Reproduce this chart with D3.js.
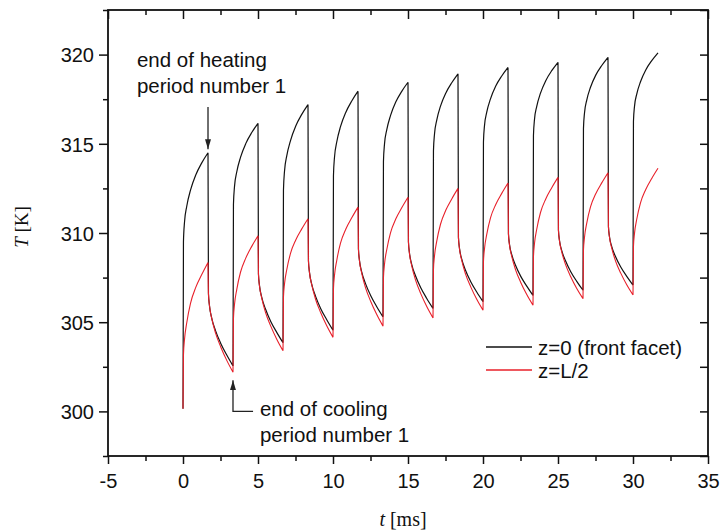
<!DOCTYPE html>
<html>
<head>
<meta charset="utf-8">
<script src="https://cdn.jsdelivr.net/npm/d3@7/dist/d3.min.js"></script>
<style>
  html, body { margin: 0; padding: 0; background: #fff; }
  svg { display: block; }
  text { font-family: "Liberation Sans", Arial, Helvetica, sans-serif; fill: #111; }
  .serif { font-family: "Liberation Serif", "Times New Roman", serif; }
</style>
</head>
<body>
<svg id="chart" width="723" height="531"></svg>
<script>
// ---- data ----
const timeMs = [
  0, 0.03, 0.1, 0.25, 0.5, 0.85, 1.25, 1.667, 1.697, 1.767, 1.917, 2.167, 2.517, 2.917,
  3.333, 3.363, 3.433, 3.583, 3.833, 4.183, 4.583, 5.0, 5.03, 5.1, 5.25, 5.5, 5.85, 6.25,
  6.667, 6.697, 6.767, 6.917, 7.167, 7.517, 7.917, 8.333, 8.363, 8.433, 8.583, 8.833, 9.183, 9.583,
  10.0, 10.03, 10.1, 10.25, 10.5, 10.85, 11.25, 11.667, 11.697, 11.767, 11.917, 12.167, 12.517, 12.917,
  13.333, 13.363, 13.433, 13.583, 13.833, 14.183, 14.583, 15.0, 15.03, 15.1, 15.25, 15.5, 15.85, 16.25,
  16.667, 16.697, 16.767, 16.917, 17.167, 17.517, 17.917, 18.333, 18.363, 18.433, 18.583, 18.833, 19.183, 19.583,
  20.0, 20.03, 20.1, 20.25, 20.5, 20.85, 21.25, 21.667, 21.697, 21.767, 21.917, 22.167, 22.517, 22.917,
  23.333, 23.363, 23.433, 23.583, 23.833, 24.183, 24.583, 25.0, 25.03, 25.1, 25.25, 25.5, 25.85, 26.25,
  26.667, 26.697, 26.767, 26.917, 27.167, 27.517, 27.917, 28.333, 28.363, 28.433, 28.583, 28.833, 29.183, 29.583,
  30.0, 30.03, 30.1, 30.25, 30.5, 30.85, 31.25, 31.667
];
const frontFacet = [
  300.15, 309.5, 310.60, 311.50, 312.40, 313.25, 313.93, 314.5, 306.6, 305.91, 305.22, 304.53, 303.81, 303.16,
  302.55, 311.6, 312.60, 313.42, 314.24, 315.01, 315.63, 316.15, 307.7, 307.05, 306.39, 305.74, 305.04, 304.43,
  303.85, 312.4, 313.46, 314.32, 315.18, 316.0, 316.65, 317.2, 308.45, 307.79, 307.12, 306.46, 305.76, 305.14,
  304.55, 313.2, 314.25, 315.10, 315.96, 316.76, 317.40, 317.95, 309.1, 308.45, 307.81, 307.16, 306.48, 305.87,
  305.3, 314.0, 314.98, 315.78, 316.58, 317.34, 317.94, 318.45, 309.5, 308.87, 308.23, 307.60, 306.93, 306.33,
  305.77, 314.6, 315.55, 316.33, 317.11, 317.84, 318.42, 318.92, 309.75, 309.14, 308.53, 307.91, 307.27, 306.69,
  306.15, 315.1, 316.02, 316.77, 317.52, 318.24, 318.80, 319.28, 309.95, 309.36, 308.78, 308.19, 307.57, 307.02,
  306.5, 315.45, 316.36, 317.10, 317.84, 318.54, 319.10, 319.57, 310.15, 309.58, 309.01, 308.44, 307.83, 307.29,
  306.79, 315.85, 316.73, 317.45, 318.17, 318.85, 319.39, 319.85, 310.35, 309.79, 309.24, 308.68, 308.09, 307.57,
  307.08, 316.25, 317.10, 317.79, 318.48, 319.14, 319.66, 320.1
];
const halfDepth = [
  300.15, 303.15, 304.03, 304.97, 306.06, 306.95, 307.67, 308.35, 306.6, 305.92, 305.21, 304.40, 303.61, 302.86,
  302.2, 305.2, 305.99, 306.83, 307.80, 308.59, 309.25, 309.85, 307.7, 307.03, 306.35, 305.55, 304.78, 304.05,
  303.4, 306.4, 307.15, 307.94, 308.86, 309.61, 310.23, 310.8, 308.45, 307.78, 307.10, 306.30, 305.53, 304.80,
  304.15, 306.85, 307.63, 308.46, 309.43, 310.21, 310.85, 311.45, 309.1, 308.43, 307.74, 306.94, 306.16, 305.43,
  304.78, 307.48, 308.25, 309.06, 310.01, 310.78, 311.41, 312.0, 309.5, 308.84, 308.16, 307.37, 306.60, 305.88,
  305.24, 307.94, 308.72, 309.54, 310.49, 311.27, 311.91, 312.5, 309.75, 309.12, 308.46, 307.71, 306.98, 306.28,
  305.67, 308.37, 309.12, 309.92, 310.85, 311.60, 312.22, 312.8, 309.95, 309.33, 308.69, 307.95, 307.23, 306.55,
  305.95, 308.65, 309.41, 310.21, 311.15, 311.91, 312.54, 313.12, 310.15, 309.56, 308.94, 308.24, 307.55, 306.89,
  306.32, 309.02, 309.76, 310.55, 311.46, 312.20, 312.81, 313.38, 310.35, 309.76, 309.15, 308.44, 307.75, 307.10,
  306.53, 309.23, 309.98, 310.77, 311.69, 312.44, 313.06, 313.63
];
const seriesNames = ["z=0 (front facet)", "z=L/2"];
const seriesColors = ["#111111", "#e8202a"];
const xTicks = [-5, 0, 5, 10, 15, 20, 25, 30, 35];
const yTicks = [300, 305, 310, 315, 320];
const xDomain = [-5, 35];
const yDomain = [297.5, 322.5];
// annotations: [t, T] in data units
const heatArrow = [[1.667, 317.06], [1.667, 314.7]];
const heatLabel = { t: -3.07, T: 319.3, lines: ["end of heating", "period number 1"] };
const coolArrow = [[4.67, 300.0], [3.333, 300.0], [3.333, 301.75]];
const coolLabel = { t: 5.13, T: 299.74, lines: ["end of cooling", "period number 1"] };

// ---- drawing ----
const svg = d3.select("#chart");
const L = 108, R = 708, T0 = 10, B = 456;
const x = d3.scaleLinear().domain(xDomain).range([L, R]);
const y = d3.scaleLinear().domain(yDomain).range([B, T0]);

const minorX = d3.range(-2.5, 35, 5);
const minorY = d3.range(297.5, 322.6, 5);

// frame
const axisW = 1.8;
function tickGroup(g) { g.select(".domain").remove(); g.selectAll("line").attr("stroke", "#111").attr("stroke-width", 1.5); }

// bottom (outward)
svg.append("g").attr("transform", `translate(0,${B})`)
  .call(d3.axisBottom(x).tickValues(xTicks).tickSize(8).tickFormat(d => d === 0 ? "0" : String(d).replace("-", "-")))
  .call(tickGroup)
  .call(g => g.selectAll("text").attr("font-size", 20).attr("dy", 0).attr("y", 32).style("font-family", '"Liberation Sans", Arial, sans-serif').attr("fill", "#111"));
svg.append("g").attr("transform", `translate(0,${B})`)
  .call(d3.axisBottom(x).tickValues(minorX).tickSize(5).tickFormat(""))
  .call(tickGroup);
// top (inward)
svg.append("g").attr("transform", `translate(0,${T0})`)
  .call(d3.axisBottom(x).tickValues(xTicks).tickSize(9).tickFormat(""))
  .call(tickGroup);
svg.append("g").attr("transform", `translate(0,${T0})`)
  .call(d3.axisBottom(x).tickValues(minorX).tickSize(5).tickFormat(""))
  .call(tickGroup);
// left (outward)
svg.append("g").attr("transform", `translate(${L},0)`)
  .call(d3.axisLeft(y).tickValues(yTicks).tickSize(9).tickPadding(5).tickFormat(d3.format("d")))
  .call(tickGroup)
  .call(g => g.selectAll("text").attr("font-size", 20).attr("dy", "0.36em").style("font-family", '"Liberation Sans", Arial, sans-serif').attr("fill", "#111"));
svg.append("g").attr("transform", `translate(${L},0)`)
  .call(d3.axisLeft(y).tickValues(minorY).tickSize(5).tickFormat(""))
  .call(tickGroup);
// right (inward)
svg.append("g").attr("transform", `translate(${R},0)`)
  .call(d3.axisLeft(y).tickValues(yTicks.concat(minorY)).tickSize(8).tickFormat(""))
  .call(tickGroup);

svg.append("rect").attr("x", L).attr("y", T0).attr("width", R - L).attr("height", B - T0)
  .attr("fill", "none").attr("stroke", "#111").attr("stroke-width", axisW);

// series: split at turning points so each heating/cooling branch is its own smooth piece
function pieces(vals) {
  const pts = timeMs.map((t, i) => [t, vals[i]]);
  const out = []; let cur = [pts[0]];
  for (let i = 1; i < pts.length; i++) {
    cur.push(pts[i]);
    if (i < pts.length - 1) {
      const d0 = pts[i][1] - pts[i - 1][1], d1 = pts[i + 1][1] - pts[i][1];
      if (d0 * d1 < 0) { out.push(cur); cur = [pts[i]]; }
    }
  }
  out.push(cur);
  return out;
}
const line = d3.line().x(d => x(d[0])).y(d => y(d[1])).curve(d3.curveMonotoneX);
[frontFacet, halfDepth].forEach((vals, k) => {
  const dstr = pieces(vals).map(p => line(p)).join("");
  svg.append("path").attr("d", dstr).attr("fill", "none")
    .attr("stroke", seriesColors[k]).attr("stroke-width", k === 0 ? 1.2 : 1.1)
    .attr("stroke-linejoin", "round");
});

// annotations
const defs = svg.append("defs");
defs.append("marker").attr("id", "ah").attr("viewBox", "0 0 10 10").attr("refX", 10).attr("refY", 5)
  .attr("markerWidth", 10).attr("markerHeight", 10).attr("markerUnits", "userSpaceOnUse").attr("orient", "auto")
  .append("path").attr("d", "M0,2 L10,5 L0,8 Z").attr("fill", "#222");
const aline = d3.line().x(d => x(d[0])).y(d => y(d[1]));
svg.append("path").attr("d", aline(heatArrow)).attr("fill", "none").attr("stroke", "#222").attr("stroke-width", 1.3).attr("marker-end", "url(#ah)");
svg.append("path").attr("d", aline(coolArrow)).attr("fill", "none").attr("stroke", "#222").attr("stroke-width", 1.3).attr("marker-end", "url(#ah)");

function label(lbl) {
  lbl.lines.forEach((s, i) => {
    svg.append("text").attr("x", x(lbl.t)).attr("y", y(lbl.T) + i * 25.5)
      .attr("font-size", 20.5).text(s);
  });
}
label(heatLabel);
label(coolLabel);

// legend
const lg = svg.append("g");
seriesNames.forEach((name, i) => {
  const yy = 347 + i * 23;
  lg.append("line").attr("x1", 486).attr("x2", 532).attr("y1", yy).attr("y2", yy)
    .attr("stroke", seriesColors[i]).attr("stroke-width", 1.3);
  lg.append("text").attr("x", 538).attr("y", yy + 7.5).attr("font-size", 20.5).text(name);
});

// axis titles
const yt = svg.append("text").attr("class", "serif").attr("transform", "translate(28,227) rotate(-90)")
  .attr("text-anchor", "middle").attr("font-size", 19);
yt.append("tspan").attr("font-style", "italic").text("T");
yt.append("tspan").text(" [K]");
const xt = svg.append("text").attr("class", "serif").attr("x", 403).attr("y", 526)
  .attr("text-anchor", "middle").attr("font-size", 20);
xt.append("tspan").attr("font-style", "italic").text("t");
xt.append("tspan").text(" [ms]");
</script>
</body>
</html>
